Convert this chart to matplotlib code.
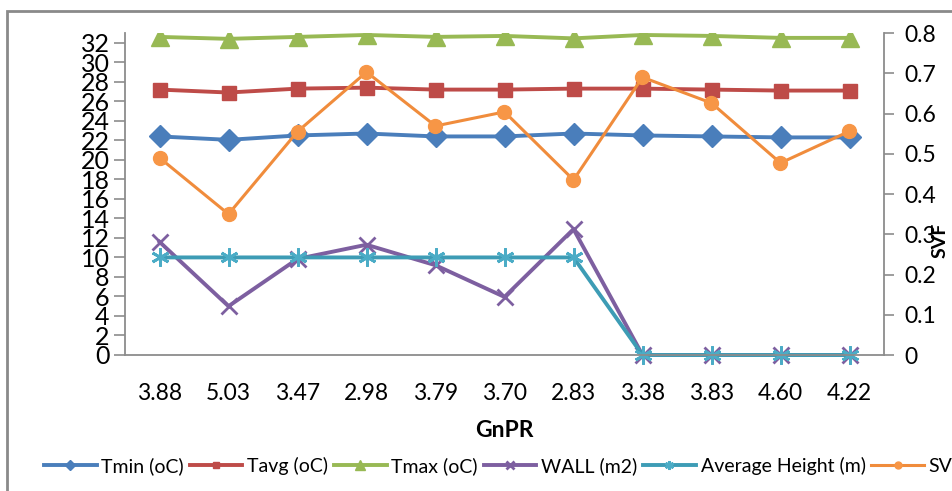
import numpy as np
import matplotlib.pyplot as plt
from matplotlib.patches import Rectangle

plt.rcParams['font.family'] = ['Lato', 'DejaVu Sans']

# GnPR categories
gnpr = ['3.88', '5.03', '3.47', '2.98', '3.79', '3.70', '2.83', '3.38', '3.83', '4.60', '4.22']

# temperatures (oC)
tmin = [22.4, 22.05, 22.5, 22.7, 22.4, 22.4, 22.7, 22.5, 22.4, 22.3, 22.3]
tavg = [27.2, 26.9, 27.3, 27.4, 27.2, 27.2, 27.3, 27.3, 27.2, 27.1, 27.1]
tmax = [32.6, 32.4, 32.6, 32.8, 32.6, 32.7, 32.45, 32.8, 32.7, 32.5, 32.5]

# wall area and building height
wall = [11.6, 5.0, 9.85, 11.3, 9.2, 5.95, 12.9, 0, 0, 0, 0]
avg_height = [10, 10, 10, 10, 10, 10, 10, 0, 0, 0, 0]

# sky view factor (right axis)
svf = [0.49, 0.35, 0.555, 0.703, 0.569, 0.604, 0.435, 0.69, 0.626, 0.477, 0.556]


def main():
    fig = plt.figure(figsize=(9.52, 4.91), dpi=100)
    ax = fig.add_axes([125/952, 1 - 355/491, (884 - 125)/952, (355 - 33)/491])
    ax2 = ax.twinx()

    x = np.arange(len(gnpr))
    lw = 2.8

    l1, = ax.plot(x, tmin, color='#4a7ebb', lw=lw, marker='D', ms=11, label='Tmin (oC)')
    l2, = ax.plot(x, tavg, color='#be4b48', lw=lw, marker='s', ms=10, label='Tavg (oC)')
    l3, = ax.plot(x, tmax, color='#98b954', lw=lw, marker='^', ms=13, label='Tmax (oC)')
    l4, = ax.plot(x, wall, color='#7d5fa0', lw=lw, marker='x', ms=12, mew=2,
                  label='WALL (m2)', clip_on=False)
    l5, = ax.plot(x, avg_height, color='#3d9cb5', lw=lw, marker=(6, 2, 0), ms=13, mew=2,
                  mec='#4bacc6', label='Average Height (m)', clip_on=False)
    l6, = ax2.plot(x, svf, color='#f08c3c', lw=2.2, marker='o', ms=10, mfc='#f79646',
                   mec='#f79646', label='SVF')

    ax.set_xlim(-0.5, len(gnpr) - 0.5)
    ax.set_ylim(0, 33)
    ax2.set_ylim(0, 0.8)
    ax.set_yticks(np.arange(0, 33, 2))
    ax2.set_yticks(np.arange(0, 0.81, 0.1))
    ax2.set_yticklabels(['0'] + ['%.1f' % v for v in np.arange(0.1, 0.81, 0.1)])
    ax.set_xticks(x)
    ax.set_xticklabels(gnpr)

    grey = '#8c8c8c'
    for a in (ax, ax2):
        a.spines['top'].set_visible(False)
        for s in ('left', 'right', 'bottom'):
            a.spines[s].set_color(grey)
            a.spines[s].set_linewidth(1.3)
    ax.spines['right'].set_visible(False)
    ax2.spines['left'].set_visible(False)
    ax2.spines['bottom'].set_visible(False)

    ax.tick_params(axis='y', labelsize=18, length=8, color=grey, width=1.2, pad=3)
    ax.tick_params(axis='x', labelsize=16.5, length=0, pad=20)
    ax2.tick_params(axis='y', labelsize=16.5, length=7, color=grey, width=1.2, pad=8)

    ax.set_xlabel('GnPR', fontsize=16.5, fontweight='bold', labelpad=12)
    fig.text(940/952, 1 - 240/491, 'SVF', rotation=90, fontsize=14, fontweight='bold',
             ha='center', va='center')

    fig.legend(handles=[l1, l2, l3, l4, l5, l6], loc='center left', ncol=6,
               bbox_to_anchor=(44/952, 1 - 466/491), frameon=False, fontsize=14,
               handlelength=2.7, handletextpad=0.25, columnspacing=0.3,
               markerscale=0.5, borderaxespad=0, borderpad=0)

    # outer chart border (cut by the image edge)
    fig.patches.append(Rectangle((7/952, -0.1), 1.2, 1.1 - 11/491, transform=fig.transFigure,
                                 fill=False, edgecolor='#8a8a8a', lw=2, zorder=0))

    fig.savefig('out.png', dpi=100)


if __name__ == '__main__':
    main()
